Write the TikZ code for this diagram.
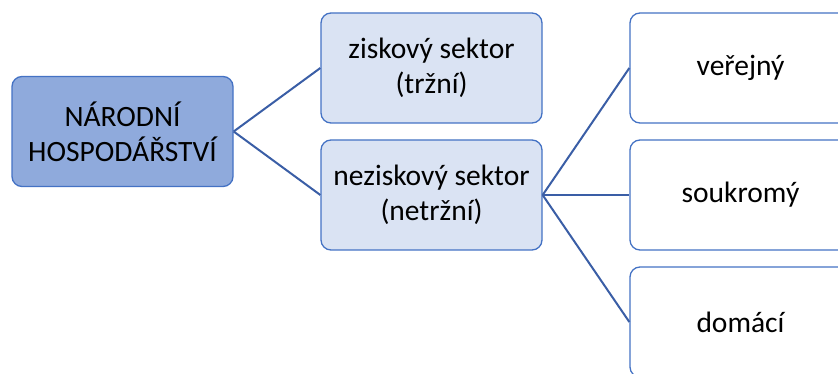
\documentclass[tikz,border=0pt]{standalone}
\usepackage{fontspec}
\setmainfont{Carlito}
\definecolor{rootfill}{HTML}{8FAADC}
\definecolor{midfill}{HTML}{DAE3F3}
\definecolor{boxline}{HTML}{4472C4}
\definecolor{conn}{HTML}{3A5EA6}
\tikzset{
  x=1pt, y=-1pt,
  box/.style={draw=boxline, line width=1.3pt, rounded corners=10pt, minimum width=221pt, minimum height=110pt, align=center, inner sep=0pt, font=\fontsize{29.5}{35}\selectfont},
  rootbox/.style={box, fill=rootfill},
  midbox/.style={box, fill=midfill},
  leafbox/.style={box, fill=white},
  conn/.style={draw=conn, line width=2pt}
}
\begin{document}
\begin{tikzpicture}
\useasboundingbox (0,0) rectangle (838,374);
\clip (0,0) rectangle (838,374);
\node[rootbox] (root) at (122.5,131.5) {NÁRODNÍ\\HOSPODÁŘSTVÍ};
\node[midbox] (zisk) at (431.5,68) {ziskový sektor\\(tržní)};
\node[midbox] (nezisk) at (431.5,195) {neziskový sektor\\(netržní)};
\node[leafbox] (ver) at (740.5,68) {veřejný};
\node[leafbox] (souk) at (740.5,195) {soukromý};
\node[leafbox] (dom) at (740.5,322) {domácí};
\draw[conn] (root.east) -- (zisk.west);
\draw[conn] (root.east) -- (nezisk.west);
\draw[conn] (nezisk.east) -- (ver.west);
\draw[conn] (nezisk.east) -- (souk.west);
\draw[conn] (nezisk.east) -- (dom.west);
\end{tikzpicture}
\end{document}
